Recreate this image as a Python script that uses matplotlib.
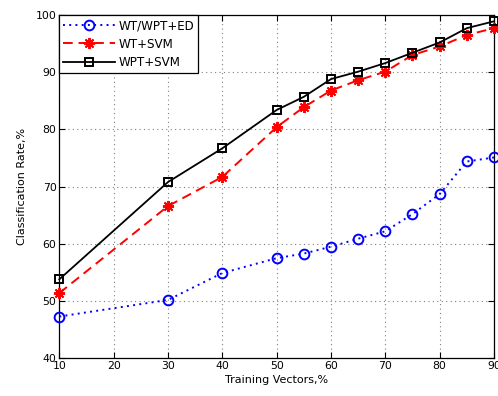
import matplotlib
matplotlib.use("Agg")
import matplotlib.pyplot as plt

x = [10, 30, 40, 50, 55, 60, 65, 70, 75, 80, 85, 90]
wt_wpt_ed = [47.3, 50.2, 54.9, 57.5, 58.3, 59.5, 60.9, 62.2, 65.2, 68.7, 74.4, 75.1]
wt_svm = [51.4, 66.6, 71.7, 80.4, 83.9, 86.8, 88.6, 90.1, 93.0, 94.5, 96.5, 97.7]
wpt_svm = [53.8, 70.8, 76.7, 83.4, 85.7, 88.8, 90.1, 91.6, 93.4, 95.2, 97.7, 98.9]
xticks = [10, 20, 30, 40, 50, 60, 70, 80, 90]
yticks = [40, 50, 60, 70, 80, 90, 100]

plt.rcParams['font.family'] = ['DejaVu Sans']
plt.rcParams['font.size'] = 8

fig = plt.figure(figsize=(4.98, 3.96), dpi=100)
ax = fig.add_axes([59.3/498, 1-358.3/396, (494-59.3)/498, (358.3-15)/396])

ax.plot(x, wt_wpt_ed, color='#0000ff', linestyle=(0, (1, 2.2)), linewidth=1.4,
        marker='o', markersize=7, markerfacecolor='none', markeredgewidth=1.4,
        label='WT/WPT+ED', clip_on=False, zorder=3)
ax.plot(x, wt_svm, color='#ff0000', linestyle=(0, (5, 3)), linewidth=1.4,
        marker=(8, 2, 0), markersize=8, markeredgewidth=1.4,
        label='WT+SVM', clip_on=False, zorder=3)
ax.plot(x, wpt_svm, color='black', linestyle='-', linewidth=1.3,
        marker='s', markersize=6.3, markerfacecolor='none', markeredgewidth=1.4,
        label='WPT+SVM', clip_on=False, zorder=3)

ax.set_xlim(10, 90)
ax.set_ylim(40, 100)
ax.set_xticks(xticks)
ax.set_yticks(yticks)
ax.grid(True, color='#808080', linestyle=(0, (1, 3)), linewidth=0.8)
ax.tick_params(direction='in', top=True, right=True, length=4, width=0.8, pad=2, labelsize=7.8)
for s in ax.spines.values():
    s.set_linewidth(0.9)
ax.set_xlabel('Training Vectors,%', labelpad=3, fontsize=8)
ax.set_ylabel('Classification Rate,%', labelpad=6, fontsize=8)

leg = ax.legend(loc='upper left', borderaxespad=0, fancybox=False, framealpha=1,
                edgecolor='black', fontsize=8.6, handlelength=4.3, borderpad=0.35,
                labelspacing=0.45, handletextpad=0.3)
leg.get_frame().set_linewidth(0.9)

fig.savefig('out.png', dpi=100)
